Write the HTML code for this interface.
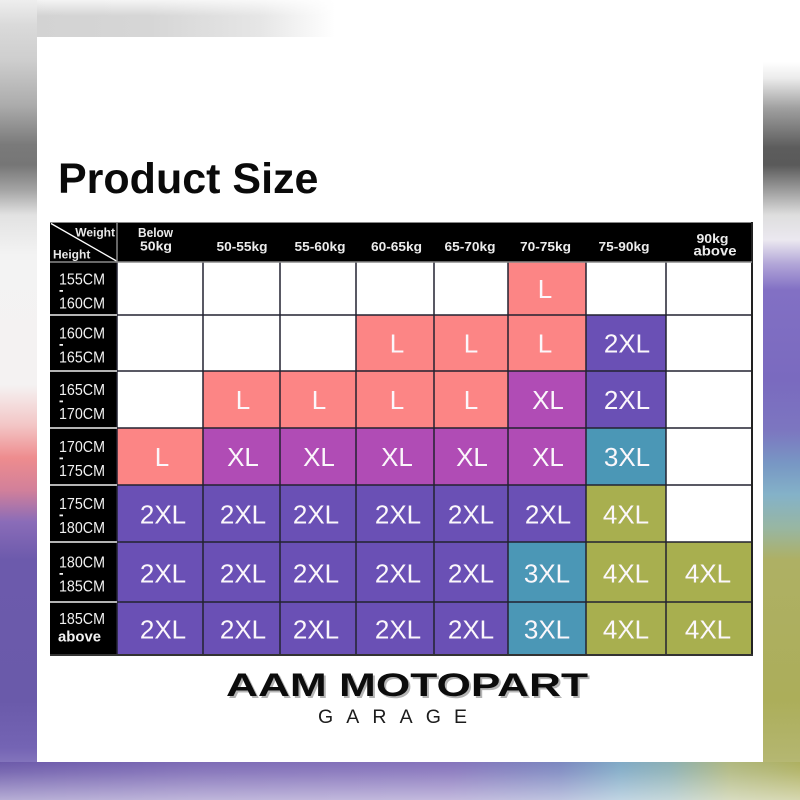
<!DOCTYPE html>
<html>
<head>
<meta charset="utf-8">
<style>
  html,body{margin:0;padding:0;}
  body{width:800px;height:800px;position:relative;overflow:hidden;background:#fff;font-family:"Liberation Sans",Arial,sans-serif;}
  .abs{position:absolute;}
</style>
</head>
<body>
<!-- background blur strips -->
<div class="abs" style="left:0;top:0;width:800px;height:37px;background:linear-gradient(to right,#d2d2d2 0px,#d6d6d6 150px,#e6e6e6 260px,#ffffff 335px,#ffffff 800px);"></div>
<div class="abs" style="left:0;top:0;width:800px;height:37px;background:linear-gradient(to bottom,rgba(255,255,255,0.75) 0px,rgba(255,255,255,0) 16px);"></div>
<div class="abs" style="left:0;top:0;width:37px;height:800px;background:linear-gradient(to bottom,#eeeeee 0px,#dadada 25px,#cecece 60px,#acacac 105px,#7a7a7a 145px,#767676 165px,#a4a4a4 190px,#e2e2e2 215px,#f3f3f3 255px,#f4f2f2 385px,#f3c6c6 425px,#ee8c8e 458px,#d2809a 490px,#8a6cb8 522px,#6c5aac 560px,#6a5aaa 700px,#7464b4 748px,#9a8ec8 785px,#b8b0d8 800px);"></div>
<div class="abs" style="left:763px;top:0;width:37px;height:800px;background:linear-gradient(to bottom,#ffffff 0px,#ffffff 62px,#ececec 78px,#a0a0a0 108px,#5c5c5c 148px,#5a5a5a 165px,#9c9c9c 190px,#dedede 215px,#ebe8f0 240px,#b2a6d8 264px,#8270c4 290px,#7a6abf 380px,#7c76c0 430px,#7898c4 465px,#84b2c8 495px,#98b6a2 528px,#aeb064 560px,#acae5a 700px,#b4b670 758px,#c8c898 800px);"></div>
<div class="abs" style="left:0;top:762px;width:800px;height:38px;background:linear-gradient(to right,#6c5aaa 0px,#7e6cb6 200px,#8674bc 450px,#7c88c0 560px,#80aac6 620px,#8cb0b4 670px,#b0b880 730px,#aeb060 800px);"></div>
<div class="abs" style="left:0;top:762px;width:800px;height:38px;background:linear-gradient(to bottom,rgba(255,255,255,0) 0px,rgba(255,255,255,0.1) 10px,rgba(255,255,255,0.5) 38px);"></div>

<!-- card -->
<div class="abs" style="left:37px;top:37px;width:726px;height:725px;background:#fff;"></div>

<svg class="abs" style="left:0;top:0" width="800" height="800" viewBox="0 0 800 800" xmlns="http://www.w3.org/2000/svg" font-family="Liberation Sans, Arial, sans-serif">
  <!-- Title -->
  <text x="58" y="193" font-size="43" font-weight="bold" fill="#0a0a0a">Product Size</text>

  <!-- header -->
  <rect x="50" y="222" width="702" height="40" fill="#000"/>
  <line x1="50" y1="222.5" x2="752" y2="222.5" stroke="#888" stroke-width="1"/>
  <line x1="51" y1="223.5" x2="116.5" y2="261" stroke="#fff" stroke-width="1.3"/>
  <line x1="117" y1="222" x2="117" y2="262" stroke="#888" stroke-width="1.5"/>
  <text x="115" y="236.5" font-size="12" font-weight="bold" fill="#e8e8e8" text-anchor="end">Weight</text>
  <text x="53" y="258.5" font-size="12" font-weight="bold" fill="#e8e8e8">Height</text>
  <g fill="#ececec" font-size="13" font-weight="bold" text-anchor="middle">
    <text x="155.5" y="237" textLength="35" lengthAdjust="spacingAndGlyphs">Below</text>
    <text x="156" y="250.5" textLength="32" lengthAdjust="spacingAndGlyphs">50kg</text>
    <text x="242" y="251" textLength="51" lengthAdjust="spacingAndGlyphs">50-55kg</text>
    <text x="320" y="251" textLength="51" lengthAdjust="spacingAndGlyphs">55-60kg</text>
    <text x="396.5" y="251" textLength="51" lengthAdjust="spacingAndGlyphs">60-65kg</text>
    <text x="470" y="251" textLength="51" lengthAdjust="spacingAndGlyphs">65-70kg</text>
    <text x="545.5" y="251" textLength="51" lengthAdjust="spacingAndGlyphs">70-75kg</text>
    <text x="624" y="251" textLength="51" lengthAdjust="spacingAndGlyphs">75-90kg</text>
    <text x="712.5" y="243" textLength="32" lengthAdjust="spacingAndGlyphs">90kg</text>
    <text x="715" y="255.5" font-size="14" textLength="43" lengthAdjust="spacingAndGlyphs">above</text>
  </g>

  <!-- left column -->
  <rect x="50" y="262" width="67" height="393" fill="#000"/>

  <!-- colored cells -->
  <g>
    <rect x="508" y="262" width="78" height="53" fill="#fc8585"/>
    <rect x="356" y="315" width="230" height="56" fill="#fc8585"/>
    <rect x="586" y="315" width="80" height="56" fill="#6a50b5"/>
    <rect x="203" y="371" width="305" height="57" fill="#fc8585"/>
    <rect x="508" y="371" width="78" height="57" fill="#b04cb5"/>
    <rect x="586" y="371" width="80" height="57" fill="#6a50b5"/>
    <rect x="117" y="428" width="86" height="57" fill="#fc8585"/>
    <rect x="203" y="428" width="383" height="57" fill="#b04cb5"/>
    <rect x="586" y="428" width="80" height="57" fill="#4b97b6"/>
    <rect x="117" y="485" width="469" height="57" fill="#6a50b5"/>
    <rect x="586" y="485" width="80" height="57" fill="#a8af4f"/>
    <rect x="117" y="542" width="391" height="113" fill="#6a50b5"/>
    <rect x="508" y="542" width="78" height="113" fill="#4b97b6"/>
    <rect x="586" y="542" width="166" height="113" fill="#a8af4f"/>
  </g>

  <!-- grid lines -->
  <g stroke="#222230" stroke-width="1.5">
    <line x1="117" y1="315" x2="752" y2="315"/>
    <line x1="117" y1="371" x2="752" y2="371"/>
    <line x1="117" y1="428" x2="752" y2="428"/>
    <line x1="117" y1="485" x2="752" y2="485"/>
    <line x1="117" y1="542" x2="752" y2="542"/>
    <line x1="117" y1="602" x2="752" y2="602"/>
    <line x1="117" y1="262" x2="117" y2="655"/>
    <line x1="203" y1="262" x2="203" y2="655"/>
    <line x1="280" y1="262" x2="280" y2="655"/>
    <line x1="356" y1="262" x2="356" y2="655"/>
    <line x1="434" y1="262" x2="434" y2="655"/>
    <line x1="508" y1="262" x2="508" y2="655"/>
    <line x1="586" y1="262" x2="586" y2="655"/>
    <line x1="666" y1="262" x2="666" y2="655"/>
  </g>
  <line x1="752" y1="222" x2="752" y2="656" stroke="#222" stroke-width="2"/>
  <line x1="50" y1="655" x2="753" y2="655" stroke="#333" stroke-width="2"/>
  <line x1="50" y1="262" x2="752" y2="262" stroke="#8a8a8a" stroke-width="1.5"/>
  <g stroke="#b4b4b4" stroke-width="2">
    <line x1="50" y1="315" x2="117" y2="315"/>
    <line x1="50" y1="371" x2="117" y2="371"/>
    <line x1="50" y1="428" x2="117" y2="428"/>
    <line x1="50" y1="485" x2="117" y2="485"/>
    <line x1="50" y1="542" x2="117" y2="542"/>
    <line x1="50" y1="602" x2="117" y2="602"/>
  </g>

  <!-- left column labels -->
  <g fill="#f2f2f2" font-size="15.5">
    <text x="59" y="284.5" textLength="46" lengthAdjust="spacingAndGlyphs">155CM</text>
    <rect x="59.5" y="290" width="3.5" height="1.8"/>
    <text x="59" y="308.5" textLength="46" lengthAdjust="spacingAndGlyphs">160CM</text>

    <text x="59" y="338.5" textLength="46" lengthAdjust="spacingAndGlyphs">160CM</text>
    <rect x="59.5" y="344" width="3.5" height="1.8"/>
    <text x="59" y="362.5" textLength="46" lengthAdjust="spacingAndGlyphs">165CM</text>

    <text x="59" y="395" textLength="46" lengthAdjust="spacingAndGlyphs">165CM</text>
    <rect x="59.5" y="400.5" width="3.5" height="1.8"/>
    <text x="59" y="419" textLength="46" lengthAdjust="spacingAndGlyphs">170CM</text>

    <text x="59" y="452" textLength="46" lengthAdjust="spacingAndGlyphs">170CM</text>
    <rect x="59.5" y="457.5" width="3.5" height="1.8"/>
    <text x="59" y="476" textLength="46" lengthAdjust="spacingAndGlyphs">175CM</text>

    <text x="59" y="509" textLength="46" lengthAdjust="spacingAndGlyphs">175CM</text>
    <rect x="59.5" y="514.5" width="3.5" height="1.8"/>
    <text x="59" y="533" textLength="46" lengthAdjust="spacingAndGlyphs">180CM</text>

    <text x="59" y="567.5" textLength="46" lengthAdjust="spacingAndGlyphs">180CM</text>
    <rect x="59.5" y="573" width="3.5" height="1.8"/>
    <text x="59" y="591.5" textLength="46" lengthAdjust="spacingAndGlyphs">185CM</text>

    <text x="59" y="624" textLength="46" lengthAdjust="spacingAndGlyphs">185CM</text>
    <text x="58" y="641.5" font-weight="bold" font-size="15" textLength="43" lengthAdjust="spacingAndGlyphs">above</text>
  </g>

  <!-- cell texts -->
  <g fill="#fbf7fb" font-size="26" text-anchor="middle">
    <text x="545" y="298">L</text>
    <text x="397" y="352.5">L</text>
    <text x="471" y="352.5">L</text>
    <text x="545" y="352.5">L</text>
    <text x="627" y="352.5">2XL</text>
    <text x="243" y="409">L</text>
    <text x="319" y="409">L</text>
    <text x="397" y="409">L</text>
    <text x="471" y="409">L</text>
    <text x="548" y="409">XL</text>
    <text x="627" y="409">2XL</text>
    <text x="162" y="466">L</text>
    <text x="243" y="466">XL</text>
    <text x="319" y="466">XL</text>
    <text x="397" y="466">XL</text>
    <text x="472" y="466">XL</text>
    <text x="548" y="466">XL</text>
    <text x="627" y="466">3XL</text>
    <text x="163" y="523.5">2XL</text>
    <text x="243" y="523.5">2XL</text>
    <text x="316" y="523.5">2XL</text>
    <text x="398" y="523.5">2XL</text>
    <text x="471" y="523.5">2XL</text>
    <text x="548" y="523.5">2XL</text>
    <text x="626" y="523.5">4XL</text>
    <text x="163" y="582.5">2XL</text>
    <text x="243" y="582.5">2XL</text>
    <text x="316" y="582.5">2XL</text>
    <text x="398" y="582.5">2XL</text>
    <text x="471" y="582.5">2XL</text>
    <text x="547" y="582.5">3XL</text>
    <text x="626" y="582.5">4XL</text>
    <text x="708" y="582.5">4XL</text>
    <text x="163" y="638.5">2XL</text>
    <text x="243" y="638.5">2XL</text>
    <text x="316" y="638.5">2XL</text>
    <text x="398" y="638.5">2XL</text>
    <text x="471" y="638.5">2XL</text>
    <text x="547" y="638.5">3XL</text>
    <text x="626" y="638.5">4XL</text>
    <text x="708" y="638.5">4XL</text>
  </g>

  <!-- logo -->
  <text x="228" y="698" font-size="32" font-weight="bold" fill="#777" opacity="0.55" textLength="362" lengthAdjust="spacingAndGlyphs">AAM MOTOPART</text>
  <text x="226" y="696" font-size="32" font-weight="bold" fill="#0c0c0c" textLength="362" lengthAdjust="spacingAndGlyphs">AAM MOTOPART</text>
  <text x="318" y="723" font-size="19.5" fill="#1c1c1c" textLength="149" lengthAdjust="spacing">GARAGE</text>
</svg>
</body>
</html>
